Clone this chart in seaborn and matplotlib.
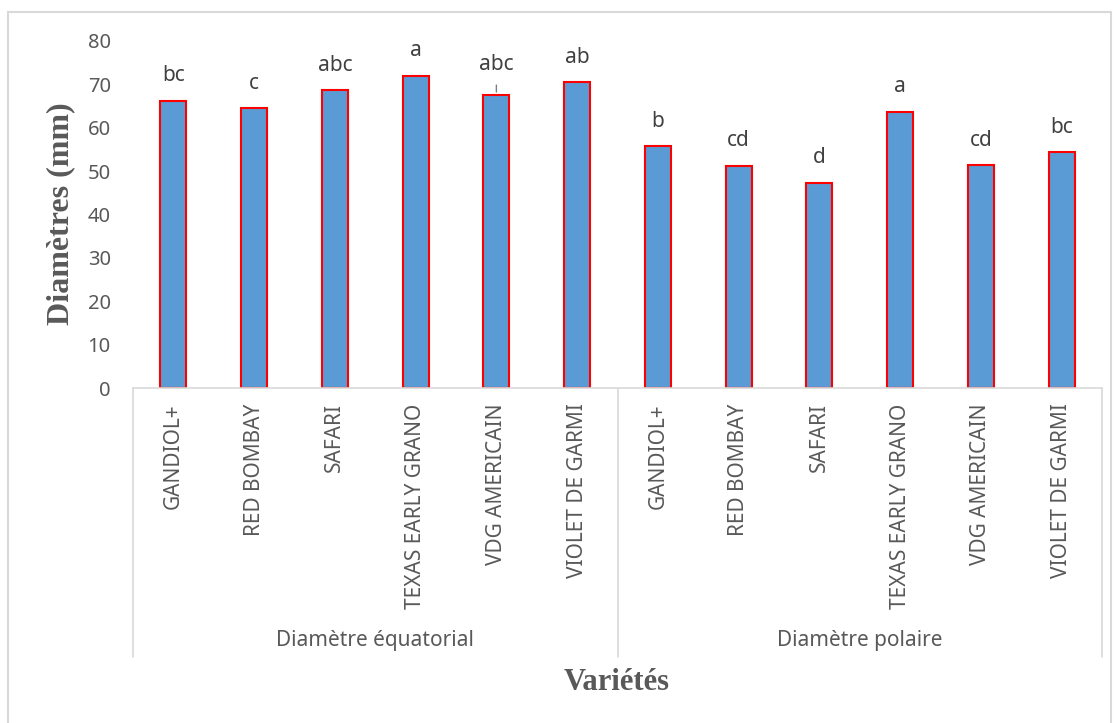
import matplotlib
matplotlib.use("Agg")
import matplotlib.pyplot as plt
import matplotlib.transforms as mtransforms
from matplotlib.patches import Rectangle
import seaborn as sns
import pandas as pd

# Onion varieties, two diameter measurements
groups = ["Diamètre équatorial", "Diamètre polaire"]
varieties = ["GANDIOL+", "RED BOMBAY", "SAFARI", "TEXAS EARLY GRANO",
             "VDG AMERICAIN", "VIOLET DE GARMI"]
equatorial = [66.2, 64.5, 68.7, 72.0, 67.6, 70.5]
polar = [55.7, 51.2, 47.3, 63.7, 51.4, 54.3]
letters_eq = ["bc", "c", "abc", "a", "abc", "ab"]
letters_pol = ["b", "cd", "d", "a", "cd", "bc"]
y_ticks = [0, 10, 20, 30, 40, 50, 60, 70, 80]

rows = []
for g, vals, lets in [(groups[0], equatorial, letters_eq), (groups[1], polar, letters_pol)]:
    for v, val, let in zip(varieties, vals, lets):
        rows.append({"key": f"{g}|{v}", "group": g, "variety": v,
                     "diam": val, "letter": let})
df = pd.DataFrame(rows)

sns.set_theme(style="white")
plt.rcParams["font.family"] = ["Noto Sans", "DejaVu Sans"]

TXT = "#595959"
GRID = "#D9D9D9"
W, H = 1117, 723
fig = plt.figure(figsize=(W / 100, H / 100), dpi=100)
ax = fig.add_axes([133 / W, (H - 388) / H, (1102 - 133) / W, (388 - 41) / H])

sns.barplot(data=df, x="key", y="diam", order=list(df["key"]), ax=ax,
            color="#5B9BD5", saturation=1, width=0.32,
            edgecolor="#FF0000", linewidth=1.5, errorbar=None)

ax.set_ylim(0, 80)
ax.set_xlim(-0.5, len(df) - 0.5)
ax.set_yticks(y_ticks)
ax.set_yticklabels([str(t) for t in y_ticks], fontsize=14.5, color=TXT)
ax.set_xticks(range(len(df)))
ax.set_xticklabels(df["variety"], rotation=90, fontsize=15, color=TXT,
                   va="top", ha="center")
ax.tick_params(axis="y", length=0, pad=16)
ax.tick_params(axis="x", length=0, pad=11)
ax.set_xlabel("")
ax.set_ylabel("")
for side in ["left", "right", "top"]:
    ax.spines[side].set_visible(False)
ax.spines["bottom"].set_color(GRID)
ax.spines["bottom"].set_linewidth(1.2)

# Significance letters above bars
for i, (val, let) in enumerate(zip(df["diam"], df["letter"])):
    off = 18
    if i == 4:
        off = 22
        ax.annotate("", xy=(i, val), xytext=(0, 9), textcoords="offset points",
                    arrowprops=dict(arrowstyle="-", color="#7F7F7F", lw=1))
    ax.annotate(let, xy=(i, val), xytext=(0, off), textcoords="offset points",
                ha="center", va="center", fontsize=15, color="#404040")

# Two-level category axis: separators and group names
tr = mtransforms.blended_transform_factory(ax.transData, ax.transAxes)
for xs in [-0.5, 5.5, 11.5]:
    ax.plot([xs, xs], [0, -0.775], transform=tr, color=GRID, lw=1.2,
            clip_on=False)
for gi, g in enumerate(groups):
    ax.text(gi * 6 + 2.5, -0.729, g, transform=tr, ha="center", va="center",
            fontsize=15, color=TXT)

fig.text(617 / W, (H - 683) / H, "Variétés", ha="center", va="center",
         fontsize=22, fontweight="bold", family="Liberation Serif", color=TXT)
fig.text(61 / W, (H - 214) / H, "Diamètres (mm)", ha="center", va="center",
         rotation=90, fontsize=23, fontweight="bold", family="Liberation Serif",
         color=TXT)

# Chart area frame
fig.add_artist(Rectangle((8 / W, -0.02), (1111 - 8) / W, (H - 12) / H + 0.02,
                         transform=fig.transFigure, fill=False,
                         edgecolor=GRID, lw=1.5))

fig.savefig("out.png", dpi=100)
